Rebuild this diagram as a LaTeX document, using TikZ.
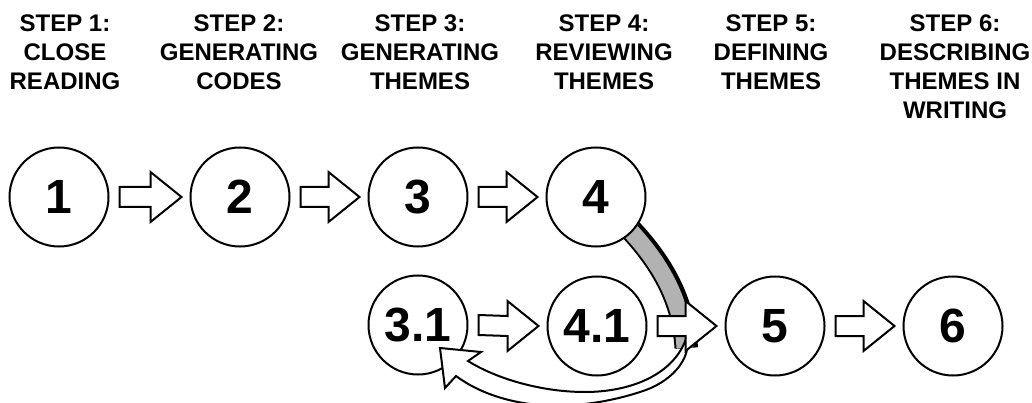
\documentclass[tikz,border=0pt]{standalone}
\usepackage{fontspec}
\setmainfont{Liberation Sans}
\usetikzlibrary{calc}
\begin{document}
\begin{tikzpicture}[x=1pt,y=-1pt,
  stepcirc/.style={circle, draw, line width=2pt, fill=white, minimum size=99pt, inner sep=0pt,
    font=\fontsize{48}{48}\selectfont\bfseries},
  head/.style={align=center, inner sep=0pt, anchor=north,
    font=\fontsize{24}{29}\selectfont\bfseries},
  blockarr/.style={draw, line width=2pt, fill=white, line join=miter},
  curvearr/.style={draw, line width=2pt, fill=white, line join=miter}]
\useasboundingbox (0,0) rectangle (1032,403);
\clip (0,0) rectangle (1032,403);

% headings
\node[head] (h1) at (65,15) {STEP 1:\\CLOSE\\READING};
\node[head] (h2) at (239,15) {STEP 2:\\GENERATING\\CODES};
\node[head] (h3) at (420,15) {STEP 3:\\GENERATING\\THEMES};
\node[head] (h4) at (604,15) {STEP 4:\\REVIEWING\\THEMES};
\node[head] (h5) at (771,15) {STEP 5:\\DEFINING\\THEMES};
\node[head] (h6) at (955,15) {STEP 6:\\DESCRIBING\\THEMES IN\\WRITING};

% gray curved band from 4 down to 5
\coordinate (gs) at (620,220);
\coordinate (ge) at (685,348);
\draw[line width=22pt, black] ([xshift=2pt]gs) .. controls ([xshift=2pt]655,255) and ([xshift=2pt]682,295) .. ([xshift=2pt]ge);
\draw[line width=21pt, black] (gs) .. controls (655,255) and (682,295) .. (ge);
\draw[line width=17pt, black!30] (gs) .. controls (655,255) and (682,295) .. (ge);

% circles
\node[stepcirc] (c1) at (59,197) {1};
\node[stepcirc] (c2) at (240,197) {2};
\node[stepcirc] (c3) at (418,197) {3};
\node[stepcirc] (c4) at (596,197) {4};
\node[stepcirc] (c31) at (418,325) {3.1};
\node[stepcirc] (c41) at (597,326) {4.1};
\node[stepcirc] (c5) at (775,326) {5};
\node[stepcirc] (c6) at (953,326) {6};

% white curved arrow back to 3.1
\coordinate (wt) at (687,336);
\path[curvearr] (wt) .. controls (692,360) and (670,383) .. (640,392)
  .. controls (600,405) and (560,408) .. (530,404)
  .. controls (500,400) and (475,390) .. (456,376)
  -- (445,388) -- (440,348) -- (481,352) -- (468,361)
  .. controls (495,378) and (540,392) .. (585,392)
  .. controls (630,392) and (675,375) .. (wt) -- cycle;

% block arrows
\newcommand\blockarrow[2]{%
  \path[blockarr] ($(#1.east)+(10,-10)$) -- ($(#2.west)+(-39,-10)$) -- ($(#2.west)+(-39,-25)$)
    -- ($(#2.west)+(-8,0)$) -- ($(#2.west)+(-39,25)$) -- ($(#2.west)+(-39,10)$)
    -- ($(#1.east)+(10,10)$) -- cycle;}
\blockarrow{c1}{c2}
\blockarrow{c2}{c3}
\blockarrow{c3}{c4}
\blockarrow{c31}{c41}
\blockarrow{c41}{c5}
\blockarrow{c5}{c6}
\end{tikzpicture}
\end{document}
